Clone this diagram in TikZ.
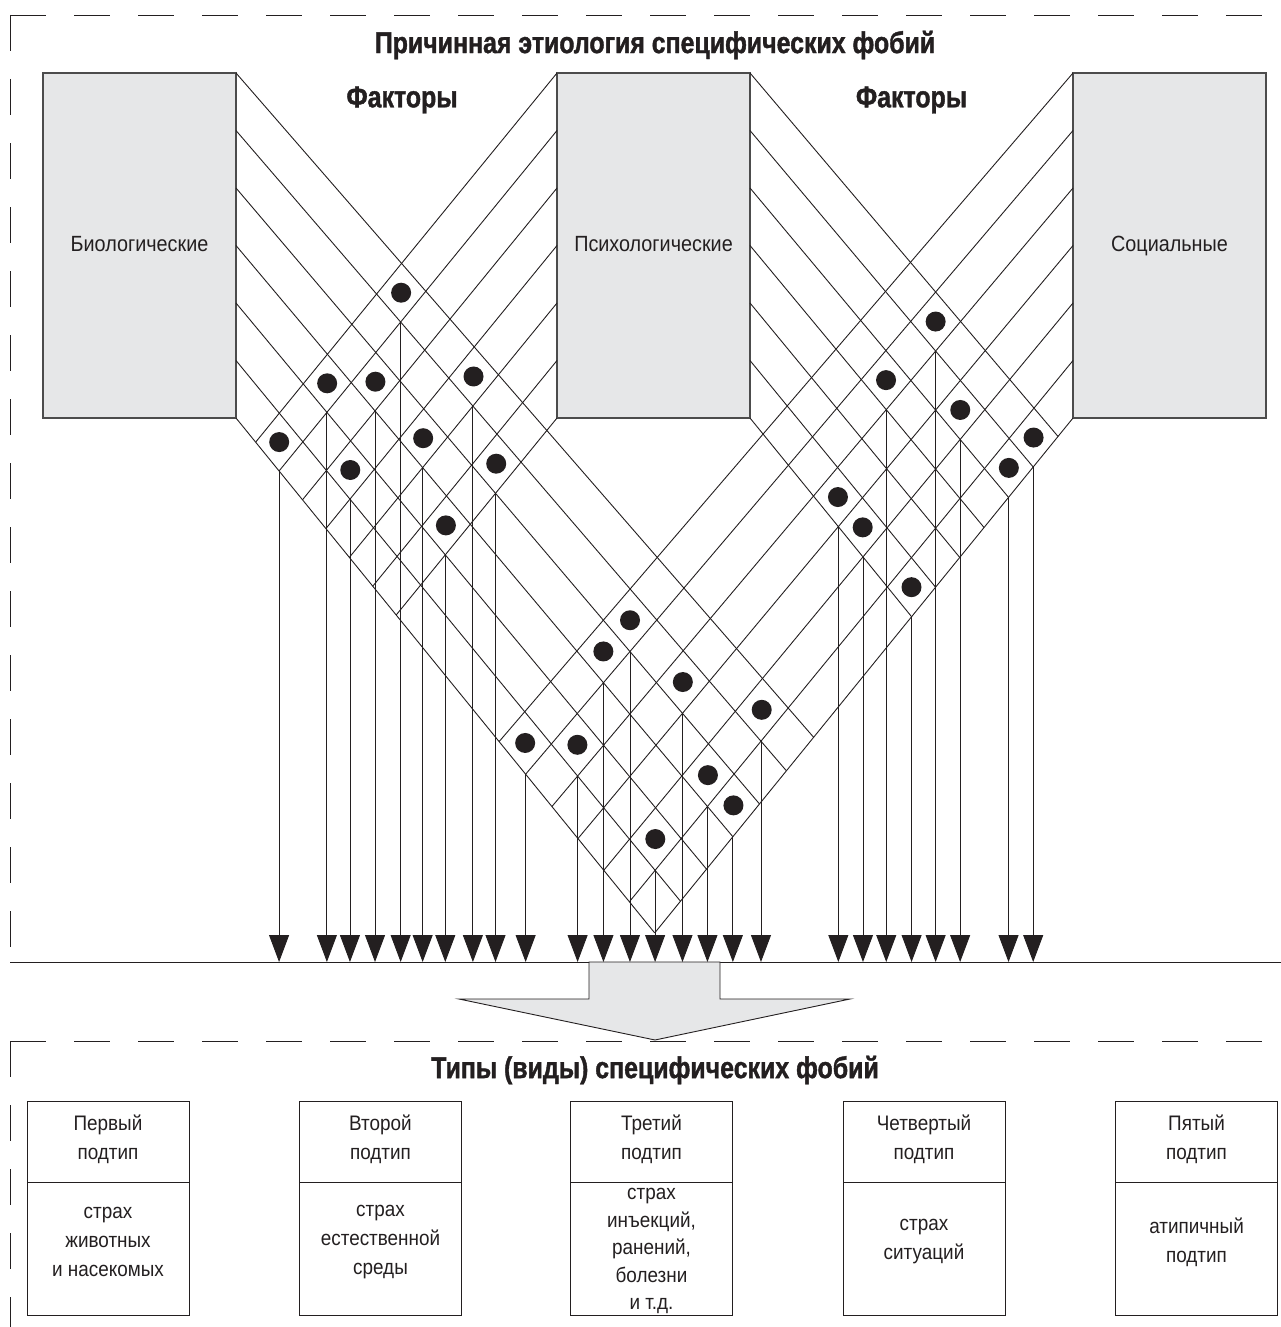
\documentclass[tikz,border=0pt]{standalone}
\usepackage{fontspec}
\setmainfont{Liberation Sans}[FakeStretch=0.9]
\newfontfamily\ttlfont{Liberation Sans}[FakeStretch=0.83, BoldFeatures={FakeBold=1.3}]
\usetikzlibrary{arrows.meta,calc}
\definecolor{boxgray}{HTML}{E6E7E8}
\definecolor{ink}{HTML}{231F20}
% intersection of a down-right line (start y #2, slope #3, start x #4)
% with a down-left line (start y #5, slope #6, start x #7)
\newcommand\mkX[7]{%
  \pgfmathsetmacro\myx{((#5)-(#2)+(#6)*(#7)+(#3)*(#4))/((#3)+(#6))}%
  \pgfmathsetmacro\myy{(#2)+(#3)*(\myx-(#4))}%
  \coordinate (#1) at (\myx,\myy);%
}
\begin{document}
\begin{tikzpicture}[x=1pt,y=-1pt,
  declare function={yS(\k)=73+57.5*\k; sB(\k)=1.15+0.0133*\k; sP(\k)=1.225+0*\k;
                    sQ(\k)=1.18+0.0083*\k; sS(\k)=1.165+0.011*\k;},
  lat/.style={line width=0.9pt, draw=ink},
  arr/.style={line width=0.9pt, draw=ink, -{Triangle[width=20pt,length=27pt]}},
  dotn/.style={circle, fill=ink, inner sep=0pt, minimum size=20pt},
  factorbox/.style={draw=black!70, line width=1.2pt, fill=boxgray, minimum width=193pt, minimum height=345pt, outer sep=0pt,
                    font=\fontsize{22}{29}\selectfont, text=ink, text height=16pt, text depth=5pt},
  frame/.style={line width=0.9pt, draw=ink, dash pattern=on 36pt off 28pt},
  ttl/.style={font=\ttlfont\fontsize{30}{34}\selectfont\bfseries, text=ink, inner sep=0pt},
  subbox/.style={draw=ink, line width=0.9pt, minimum width=162pt, outer sep=0pt, align=center,
                 font=\fontsize{21}{29}\selectfont, text=ink, inner sep=2pt},
  lbl/.style={align=center, font=\fontsize{21}{29}\selectfont, text=ink, inner sep=0pt}]

\useasboundingbox (0,0) rectangle (1281,1327);

% frames
\coordinate (fa) at (10,15);
\coordinate (fb) at (1281,15);
\coordinate (fc) at (10,962);
\coordinate (fd) at (1281,962);
\coordinate (base) at (0,962);
\draw[frame] (fa) -- (fb);
\draw[frame] (fa) -- (fc);
\draw[lat] (fc) -- (fd);
\coordinate (ga) at (10,1041);
\coordinate (gb) at (1281,1041);
\coordinate (gc) at (10,1327);
\draw[frame] (ga) -- (gb);
\draw[frame] (ga) -- (gc);

% titles
\node[ttl] (title) at (655,45) {Причинная этиология специфических фобий};
\node[ttl] (fac1) at (402,100) {Факторы};
\node[ttl] (fac2) at (911.5,100) {Факторы};

% factor boxes
\node[factorbox] (bio) at (139.5,245.5) {Биологические};
\node[factorbox] (psy) at (653.5,245.5) {Психологические};
\node[factorbox] (soc) at (1169.5,245.5) {Социальные};

% bands: B (bio, down-right from x=236), P (psych, down-left from x=557),
% Q (psych, down-right from x=750), S (social, down-left from x=1073)
\foreach \k in {0,...,6}{
  \pgfmathsetmacro\yk{yS(\k)}
  \coordinate (Bs\k) at (236,\yk);
  \coordinate (Ps\k) at (557,\yk);
  \coordinate (Qs\k) at (750,\yk);
  \coordinate (Ss\k) at (1073,\yk);
  \mkX{Be\k}{yS(\k)}{sB(\k)}{236}{yS(6)}{sS(6)}{1073}
  \mkX{Se\k}{yS(6)}{sB(6)}{236}{yS(\k)}{sS(\k)}{1073}
  \mkX{Pe\k}{yS(6)}{sB(6)}{236}{yS(\k)}{sP(\k)}{557}
  \mkX{Qe\k}{yS(\k)}{sQ(\k)}{750}{yS(6)}{sS(6)}{1073}
  \draw[lat] (Bs\k) -- (Be\k);
  \draw[lat] (Ss\k) -- (Se\k);
  \draw[lat] (Ps\k) -- (Pe\k);
  \draw[lat] (Qs\k) -- (Qe\k);
}

% left crossing: Bio x Psych-left
\foreach \k/\j [count=\n] in {0/0,2/1,3/0,0/3,5/0,4/2,2/3,1/5,3/5}{
  \pgfmathtruncatemacro\kp{\k+1}
  \pgfmathtruncatemacro\jp{\j+1}
  \mkX{Lt\n}{yS(\k)}{sB(\k)}{236}{yS(\j)}{sP(\j)}{557}
  \mkX{Lb\n}{yS(\kp)}{sB(\kp)}{236}{yS(\jp)}{sP(\jp)}{557}
  \node[dotn] (Ld\n) at ($(Lt\n)!0.5!(Lb\n)$) {};
  \coordinate (La\n) at (Lb\n |- base);
  \draw[arr] (Lb\n) -- (La\n);
}
% right crossing: Psych-right x Social
\foreach \k/\j [count=\n] in {1/0,1/2,3/1,5/0,5/1,2/5,3/5,5/5}{
  \pgfmathtruncatemacro\kp{\k+1}
  \pgfmathtruncatemacro\jp{\j+1}
  \mkX{Rt\n}{yS(\j)}{sQ(\j)}{750}{yS(\k)}{sS(\k)}{1073}
  \mkX{Rb\n}{yS(\jp)}{sQ(\jp)}{750}{yS(\kp)}{sS(\kp)}{1073}
  \node[dotn] (Rd\n) at ($(Rt\n)!0.5!(Rb\n)$) {};
  \coordinate (Ra\n) at (Rb\n |- base);
  \draw[arr] (Rb\n) -- (Ra\n);
}
% central crossing: Bio x Social
\foreach \k/\m [count=\n] in {1/0,2/0,1/2,0/4,5/0,4/1,2/4,2/5,4/4}{
  \pgfmathtruncatemacro\kp{\k+1}
  \pgfmathtruncatemacro\mp{\m+1}
  \mkX{Ct\n}{yS(\k)}{sB(\k)}{236}{yS(\m)}{sS(\m)}{1073}
  \mkX{Cb\n}{yS(\kp)}{sB(\kp)}{236}{yS(\mp)}{sS(\mp)}{1073}
  \node[dotn] (Cd\n) at ($(Ct\n)!0.5!(Cb\n)$) {};
  \coordinate (Ca\n) at (Cb\n |- base);
  \draw[arr] (Cb\n) -- (Ca\n);
}

% big arrow
\draw[line width=0.9pt, draw=ink, fill=boxgray] (589,962) -- (720,962) -- (720,999) -- (850,999)
  -- (655,1040) -- (459,999) -- (589,999) -- cycle;

% lower part
\node[ttl] (title2) at (655,1070) {Типы (виды) специфических фобий};

\node[subbox, minimum height=81pt] (h1) at (108,1141.5) {};
\node[subbox, minimum height=133pt, anchor=north] (b1) at (h1.south) {};
\node[subbox, minimum height=81pt] (h2) at (380.5,1141.5) {};
\node[subbox, minimum height=133pt, anchor=north] (b2) at (h2.south) {};
\node[subbox, minimum height=81pt] (h3) at (651.5,1141.5) {};
\node[subbox, minimum height=133pt, anchor=north] (b3) at (h3.south) {};
\node[subbox, minimum height=81pt] (h4) at (924,1141.5) {};
\node[subbox, minimum height=133pt, anchor=north] (b4) at (h4.south) {};
\node[subbox, minimum height=81pt] (h5) at (1196.5,1141.5) {};
\node[subbox, minimum height=133pt, anchor=north] (b5) at (h5.south) {};

\node[lbl] (th1) at (108,1139) {Первый\\подтип};
\node[lbl] (th2) at (380.5,1139) {Второй\\подтип};
\node[lbl] (th3) at (651.5,1139) {Третий\\подтип};
\node[lbl] (th4) at (924,1139) {Четвертый\\подтип};
\node[lbl] (th5) at (1196.5,1139) {Пятый\\подтип};

\node[lbl] (tb1) at (108,1242) {страх\\животных\\и насекомых};
\node[lbl] (tb2) at (380.5,1242) {страх\\естественной\\среды};
\node[lbl, font=\fontsize{21}{27.5}\selectfont] (tb3) at (651.5,1251) {страх\\инъекций,\\ранений,\\болезни\\и т.д.};
\node[lbl] (tb4) at (924,1242) {страх\\ситуаций};
\node[lbl] (tb5) at (1196.5,1242) {атипичный\\подтип};
\end{tikzpicture}
\end{document}
